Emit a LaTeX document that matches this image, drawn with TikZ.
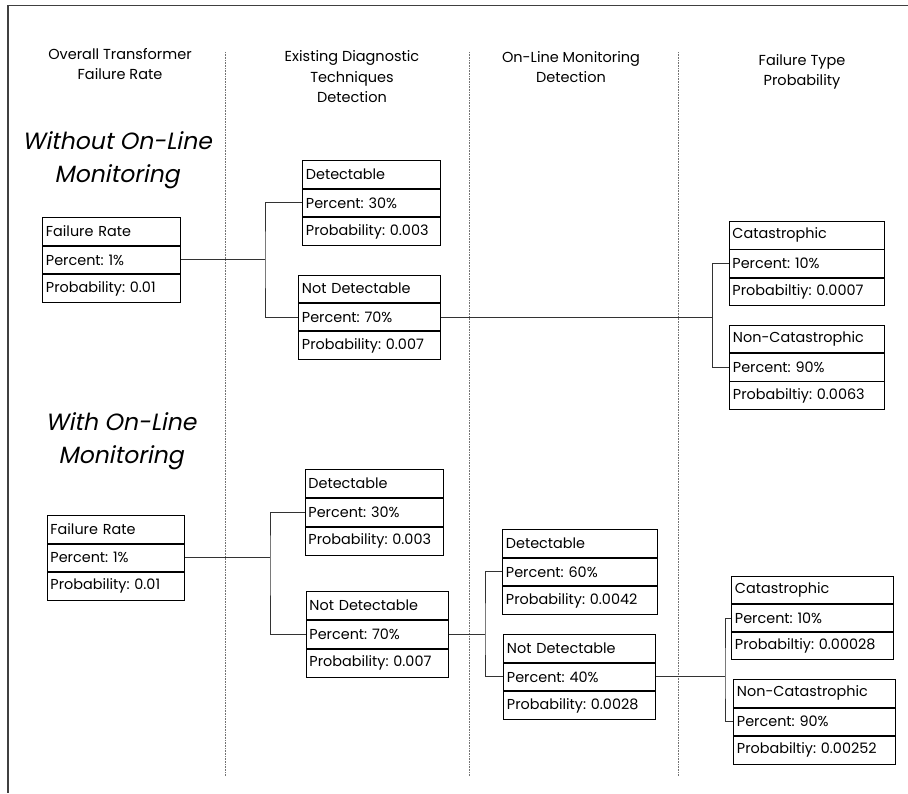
\documentclass[tikz,border=0pt]{standalone}
\usepackage{fontspec}
\setmainfont{Poppins}
\newfontfamily\slfont[FakeSlant=0.2]{Poppins}
\frenchspacing
\begin{document}
\begin{tikzpicture}[x=1pt,y=-1pt,
  cell/.style={draw=black, line width=0.9pt, anchor=north west, inner xsep=3.5pt, inner ysep=0pt,
    align=left, font=\fontsize{14.4}{16}\selectfont\frenchspacing},
  conn/.style={draw=black!80, line width=0.9pt},
  sep/.style={draw=black!55, line width=0.6pt, densely dotted},
  head/.style={align=center, font=\fontsize{14.5}{20.5}\selectfont},
  ttl/.style={align=center, font=\fontsize{23.5}{32.5}\selectfont\slfont},
  frame/.style={draw=black!75, line width=1.2pt}]
\useasboundingbox (0,0) rectangle (908,793);
\newcommand{\tbl}[9]{%
  \node[cell, text width=#4-7pt, minimum height=#5] (#1a) at (#2,#3) {#6};
  \node[cell, text width=#4-7pt, minimum height=#5] (#1b) at (#1a.south west) {#7};
  \node[cell, text width=#4-7pt, minimum height=#5] (#1c) at (#1b.south west) {#8};}
% frame
\draw[frame] (908,5.5) -- (8,5.5) -- (8,793);
% separators
\foreach \xx in {225,469,678} \draw[sep] (\xx,52) -- (\xx,776);
% headings
\node[head] (h1) at (120,64) {Overall Transformer\\Failure Rate};
\node[head] (h2) at (352,77) {Existing Diagnostic\\Techniques\\Detection};
\node[head] (h3) at (571,67) {On-Line Monitoring\\Detection};
\node[head] (h4) at (802,72) {Failure Type\\Probability};
\node[ttl] (t1) at (117,160) {Without On-Line\\Monitoring};
\node[ttl] (t2) at (121,441) {With On-Line\\Monitoring};
% top section
\tbl{fra}{42}{217}{138}{27.7pt}{Failure Rate}{Percent: 1\%}{Probability: 0.01}{}
\tbl{dea}{302}{160}{138}{27.7pt}{Detectable}{Percent: 30\%}{Probability: 0.003}{}
\tbl{nda}{298}{274.5}{142}{27.5pt}{Not Detectable}{Percent: 70\%}{Probability: 0.007}{}
\tbl{caa}{728.5}{221}{155}{27.5pt}{Catastrophic}{Percent: 10\%}{Probabiltiy: 0.0007}{}
\tbl{nca}{729}{325}{155}{27.3pt}{Non-Catastrophic}{Percent: 90\%}{Probabiltiy: 0.0063}{}
% bottom section
\tbl{frb}{46.5}{515}{137.5}{27.6pt}{Failure Rate}{Percent: 1\%}{Probability: 0.01}{}
\tbl{deb}{304.5}{469}{138.5}{27.9pt}{Detectable}{Percent: 30\%}{Probability: 0.003}{}
\tbl{ndb}{305.5}{591}{142.5}{27.9pt}{Not Detectable}{Percent: 70\%}{Probability: 0.007}{}
\tbl{dec}{502}{529}{154.5}{27.7pt}{Detectable}{Percent: 60\%}{Probability: 0.0042}{}
\tbl{ndc}{503}{634}{152}{27.7pt}{Not Detectable}{Percent: 40\%}{Probability: 0.0028}{}
\tbl{cab}{731}{575.7}{162}{27.3pt}{Catastrophic}{Percent: 10\%}{Probabiltiy: 0.00028}{}
\tbl{ncb}{733}{679}{161.5}{27.6pt}{Non-Catastrophic}{Percent: 90\%}{Probabiltiy: 0.00252}{}
% junctions
\coordinate (j1) at (265,0);
\coordinate (j2) at (712.5,0);
\coordinate (j3) at (270,0);
\coordinate (j4) at (485,0);
\coordinate (j5) at (725,0);
% connectors
\draw[conn] (frab.east) -- (j1 |- frab.east);
\draw[conn] (deab.west) -| (j1 |- frab.east) |- (ndab.west);
\draw[conn] (ndab.east) -- (j2 |- ndab.east);
\draw[conn] (caab.west) -| (j2 |- ndab.east) |- (ncab.west);
\draw[conn] (frbb.east) -- (j3 |- frbb.east);
\draw[conn] (debb.west) -| (j3 |- frbb.east) |- (ndbb.west);
\draw[conn] (ndbb.east) -- (j4 |- ndbb.east);
\draw[conn] (decb.west) -| (j4 |- ndbb.east) |- (ndcb.west);
\draw[conn] (ndcb.east) -- (j5 |- ndcb.east);
\draw[conn] (cabb.west) -| (j5 |- ndcb.east) |- (ncbb.west);
\end{tikzpicture}
\end{document}
